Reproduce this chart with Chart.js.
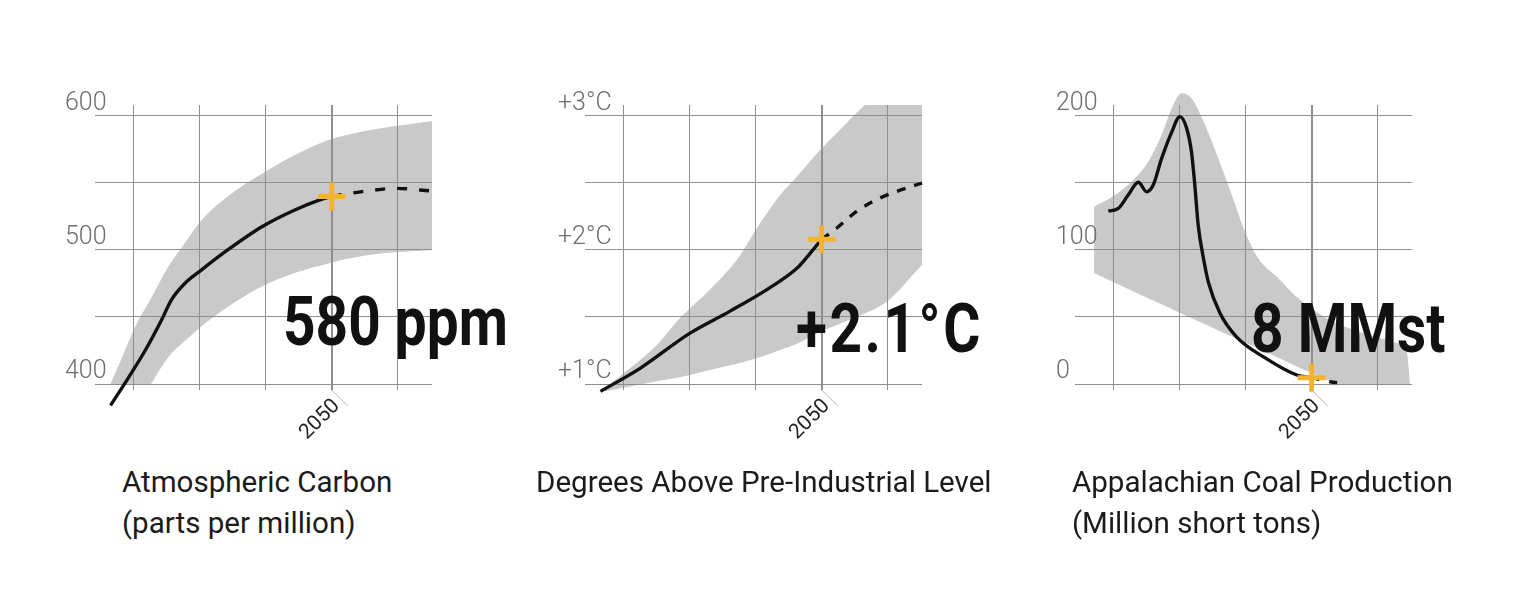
<!DOCTYPE html>
<html>
<head>
<meta charset="utf-8">
<title>Carbon, temperature and coal</title>
<script src="https://cdn.jsdelivr.net/npm/chart.js@4/dist/chart.umd.min.js"></script>
<style>
  body { margin: 0; background: #fff; width: 1521px; height: 590px; overflow: hidden; position: relative; font-family: Roboto, sans-serif; }
  .panel { position: absolute; top: 0; width: 490px; height: 590px; }
  .panel canvas { position: absolute; left: 0; top: 0; }
  .big { position: absolute; font: 700 68px Roboto, sans-serif; line-height: 68px; color: #111; white-space: nowrap;
         transform: scaleX(0.835); transform-origin: 0 0; }
  .caption { position: absolute; top: 461px; font: 400 30px Roboto, sans-serif; line-height: 41px; color: #1b1b1b; white-space: nowrap;
             transform: scaleX(0.985); transform-origin: 0 0; }
</style>
</head>
<body>
<div class="panel" style="left:0">
  <canvas id="chart-co2" width="490" height="450"></canvas>
  <div class="big" style="left:283px;top:288px">580 ppm</div>
  <div class="caption" style="left:122px">Atmospheric Carbon<br>(parts per million)</div>
</div>
<div class="panel" style="left:490px">
  <canvas id="chart-temp" width="490" height="450"></canvas>
  <div class="big" style="left:306px;top:295px;letter-spacing:3px">+2.1°C</div>
  <div class="caption" style="left:46px">Degrees Above Pre-Industrial Level</div>
</div>
<div class="panel" style="left:980px">
  <canvas id="chart-coal" width="490" height="450"></canvas>
  <div class="big" style="left:271px;top:295px">8 MMst</div>
  <div class="caption" style="left:92px">Appalachian Coal Production<br>(Million short tons)</div>
</div>

<script>
'use strict';

// shared x axis (years)
var gridYears = [1990, 2010, 2030, 2050, 2070];
var labelYears = [2050];
var yearMin = 1978.3;
var yearMax = 2080.4;

// [ atmospheric carbon ]
var co2Ticks = [400, 450, 500, 550, 600];
var co2TickLabels = ['400', '', '500', '', '600'];
var co2Years = [1983, 1988.5, 1993.5, 1998.5, 2001.5, 2005.5, 2010.5, 2018.5, 2029, 2039, 2046, 2050];
var co2Values = [384, 405, 425, 448, 463, 475, 485, 500, 517.5, 530, 537, 540];
var co2ProjYears = [2050, 2054.5, 2061.5, 2069.5, 2080.4];
var co2ProjValues = [540, 541.8, 544.3, 546, 544];
var co2BandYears = [1983, 1986.5, 1990.5, 1995.5, 2000.5, 2005.5, 2010.5, 2018.5, 2029, 2039, 2049, 2054, 2065.5, 2080.4];
var co2High = [400, 420, 443, 465, 487.5, 505, 522, 540, 557, 571, 582, 585.5, 591, 596];
var co2Low = [355, 367, 381, 401, 420, 432, 443, 457.5, 473, 483, 490, 493, 497.5, 500];
var co2Mark = [540];

// [ degrees above pre-industrial ]
var tempTicks = [1, 1.5, 2, 2.5, 3];
var tempTickLabels = ['+1°C', '', '+2°C', '', '+3°C'];
var tempYears = [1983, 1995, 2010, 2022, 2034, 2042.5, 2046, 2050];
var tempValues = [0.945, 1.117, 1.378, 1.54, 1.714, 1.863, 1.96, 2.08];
var tempProjYears = [2050, 2054.5, 2060.5, 2067.5, 2080.4];
var tempProjValues = [2.08, 2.162, 2.286, 2.386, 2.5];
var tempBandYears = [1983, 1990, 2000, 2007, 2017, 2025, 2030, 2037, 2042.5, 2049.5, 2055.5, 2062.5, 2070, 2080.4];
var tempHigh = [0.945, 1.08, 1.29, 1.49, 1.726, 1.95, 2.149, 2.398, 2.547, 2.746, 2.896, 3.069, 3.22, 3.4];
var tempLow = [0.94, 0.972, 1.02, 1.05, 1.11, 1.155, 1.19, 1.25, 1.3, 1.39, 1.45, 1.52, 1.62, 1.89];
var tempMark = [2.08];

// [ appalachian coal ]
var coalTicks = [0, 50, 100, 150, 200];
var coalTickLabels = ['0', '', '100', '', '200'];
var coalYears = [1988.4, 1991.4, 1994.4, 1997.5, 2000, 2002, 2004.5, 2007.6, 2010.1, 2012.1, 2013.6, 2014.6, 2015.6, 2017.2, 2018.7, 2022.2, 2027.3, 2035.3, 2045.5, 2050];
var coalValues = [129, 131, 141, 150.5, 143.5, 148.5, 168, 188, 199.5, 191, 173, 148.5, 119, 94, 76, 53, 35, 20.4, 6.7, 4.7];
var coalProjYears = [2050, 2055.5, 2060];
var coalProjValues = [4.7, 1.7, 0.5];
var coalBandYears = [1984.1, 1990.4, 1996.5, 2000.5, 2004.5, 2007.6, 2010.6, 2013.6, 2017.7, 2021.7, 2025.8, 2029.8, 2033.8, 2039.9, 2045.5, 2055.5, 2065.5, 2075.8, 2078.9, 2079.8];
var coalHigh = [132.3, 141, 153.5, 165.9, 185.8, 205.7, 216.9, 213.2, 193.3, 168.4, 141, 113.7, 93.8, 78.9, 64.9, 47.8, 38.1, 30.6, 23.1, 0];
var coalLow = [82.8, 75.5, 68.5, 64, 59.5, 56, 52.5, 49, 44.5, 40, 35.5, 31, 26.5, 19.5, 13, 2, -8, -18, -21, -22];
var coalMark = [4.7];

var gridColor = '#8f8f8f';
var bandColor = '#c9c9c9';
var markColor = '#f5b335';
var lineColor = '#111';

function pts(xs, ys) {
    return xs.map(function(x, i) { return {x: x, y: ys[i]}; });
}

// grey range drawn under the grid, so it may run past the plot top where needed
var bandPlugin = {
    id: 'band',
    beforeDraw: function(chart, args, opts) {
        var hi = chart.getDatasetMeta(3), lo = chart.getDatasetMeta(4);
        var area = chart.chartArea, ctx = chart.ctx;
        hi.dataset.updateControlPoints(area, 'x');
        lo.dataset.updateControlPoints(area, 'x');
        var a = hi.data, b = lo.data, n = b.length - 1, i;
        ctx.save();
        var top = opts.clipTop ? area.top : 0;
        ctx.beginPath();
        ctx.rect(area.left, top, area.right - area.left, area.bottom + (opts.extraBottom || 0) - top);
        ctx.clip();
        ctx.beginPath();
        ctx.moveTo(a[0].x, a[0].y);
        for (i = 1; i < a.length; i++) {
            ctx.bezierCurveTo(a[i - 1].cp2x, a[i - 1].cp2y, a[i].cp1x, a[i].cp1y, a[i].x, a[i].y);
        }
        ctx.lineTo(b[n].x, b[n].y);
        for (i = n - 1; i >= 0; i--) {
            ctx.bezierCurveTo(b[i + 1].cp1x, b[i + 1].cp1y, b[i].cp2x, b[i].cp2y, b[i].x, b[i].y);
        }
        ctx.closePath();
        ctx.fillStyle = bandColor;
        ctx.fill();
        ctx.restore();
    }
};

// thin leader under the 2050 tick
var leaderPlugin = {
    id: 'leader',
    afterDraw: function(chart) {
        var ctx = chart.ctx;
        var x = chart.scales.x.getPixelForValue(labelYears[0]);
        var y = chart.chartArea.bottom + 6;
        ctx.save();
        ctx.strokeStyle = '#b5b5b5';
        ctx.lineWidth = 1;
        ctx.beginPath();
        ctx.moveTo(x, y);
        ctx.lineTo(x + 16, y + 16);
        ctx.stroke();
        ctx.restore();
    }
};

function makeChart(id, c) {
    var el = document.getElementById(id);
    return new Chart(el, {
        type: 'line',
        data: {
            datasets: [{
                data: pts(labelYears, c.mark),
                showLine: false,
                pointStyle: 'cross',
                pointRadius: 14,
                pointBorderWidth: 5,
                pointBorderColor: markColor,
                clip: false
            }, {
                data: pts(c.years, c.values),
                borderColor: lineColor,
                borderWidth: 3.4,
                pointRadius: 0,
                cubicInterpolationMode: 'monotone',
                capBezierPoints: false,
                clip: false
            }, {
                data: pts(c.projYears, c.proj),
                borderColor: lineColor,
                borderWidth: 3.4,
                borderDash: c.dash,
                pointRadius: 0,
                cubicInterpolationMode: 'monotone',
                capBezierPoints: false,
                clip: false
            }, {
                data: pts(c.bandYears, c.high),
                borderWidth: 0,
                borderColor: 'rgba(0,0,0,0)',
                pointRadius: 0,
                cubicInterpolationMode: 'monotone',
                capBezierPoints: false
            }, {
                data: pts(c.bandYears, c.low),
                borderWidth: 0,
                borderColor: 'rgba(0,0,0,0)',
                pointRadius: 0,
                cubicInterpolationMode: 'monotone',
                capBezierPoints: false
            }]
        },
        plugins: [bandPlugin, leaderPlugin],
        options: {
            responsive: false,
            animation: false,
            events: [],
            layout: {padding: {left: 65, right: 58, top: 105, bottom: 0}},
            plugins: {
                legend: {display: false},
                tooltip: {enabled: false},
                band: {clipTop: c.clipTop, extraBottom: c.extraBottom}
            },
            scales: {
                x: {
                    type: 'linear',
                    min: yearMin,
                    max: yearMax,
                    afterBuildTicks: function(s) { s.ticks = gridYears.map(function(v) { return {value: v}; }); },
                    afterFit: function(s) { s.height = 66; },
                    border: {display: false},
                    grid: {
                        color: gridColor,
                        lineWidth: function(ctx) { return ctx.tick && ctx.tick.value === 2050 ? 2 : 1; },
                        tickLength: 6
                    },
                    ticks: {
                        autoSkip: false,
                        minRotation: 45,
                        maxRotation: 45,
                        padding: 4,
                        labelOffset: 5,
                        color: '#222',
                        font: {family: 'Roboto', size: 21},
                        callback: function(v) { return labelYears.indexOf(v) >= 0 ? String(v) : ''; }
                    }
                },
                y: {
                    min: c.yMin,
                    max: c.yMax,
                    afterBuildTicks: function(s) { s.ticks = c.ticks.map(function(v) { return {value: v}; }); },
                    afterFit: function(s) { s.width = 30; },
                    border: {display: false},
                    grid: {color: gridColor, drawTicks: false},
                    ticks: {
                        mirror: true,
                        crossAlign: 'near',
                        labelOffset: -12,
                        padding: c.labelLeft - 95,
                        color: '#6e6e6e',
                        font: {family: 'Roboto', size: 25, weight: 300},
                        callback: function(v, i) { return c.tickLabels[i]; }
                    }
                }
            }
        }
    });
}

makeChart('chart-co2', {
    years: co2Years, values: co2Values, projYears: co2ProjYears, proj: co2ProjValues,
    bandYears: co2BandYears, high: co2High, low: co2Low, mark: co2Mark,
    ticks: co2Ticks, tickLabels: co2TickLabels, yMin: 400, yMax: 608.2,
    labelLeft: 65, dash: [10, 12], clipTop: true, extraBottom: 0
});
makeChart('chart-temp', {
    years: tempYears, values: tempValues, projYears: tempProjYears, proj: tempProjValues,
    bandYears: tempBandYears, high: tempHigh, low: tempLow, mark: tempMark,
    ticks: tempTicks, tickLabels: tempTickLabels, yMin: 1, yMax: 3.082,
    labelLeft: 68, dash: [9, 9], clipTop: true, extraBottom: 8
});
makeChart('chart-coal', {
    years: coalYears, values: coalValues, projYears: coalProjYears, proj: coalProjValues,
    bandYears: coalBandYears, high: coalHigh, low: coalLow, mark: coalMark,
    ticks: coalTicks, tickLabels: coalTickLabels, yMin: 0, yMax: 208.2,
    labelLeft: 76, dash: [8, 10], clipTop: false, extraBottom: 0
});
</script>
</body>
</html>
